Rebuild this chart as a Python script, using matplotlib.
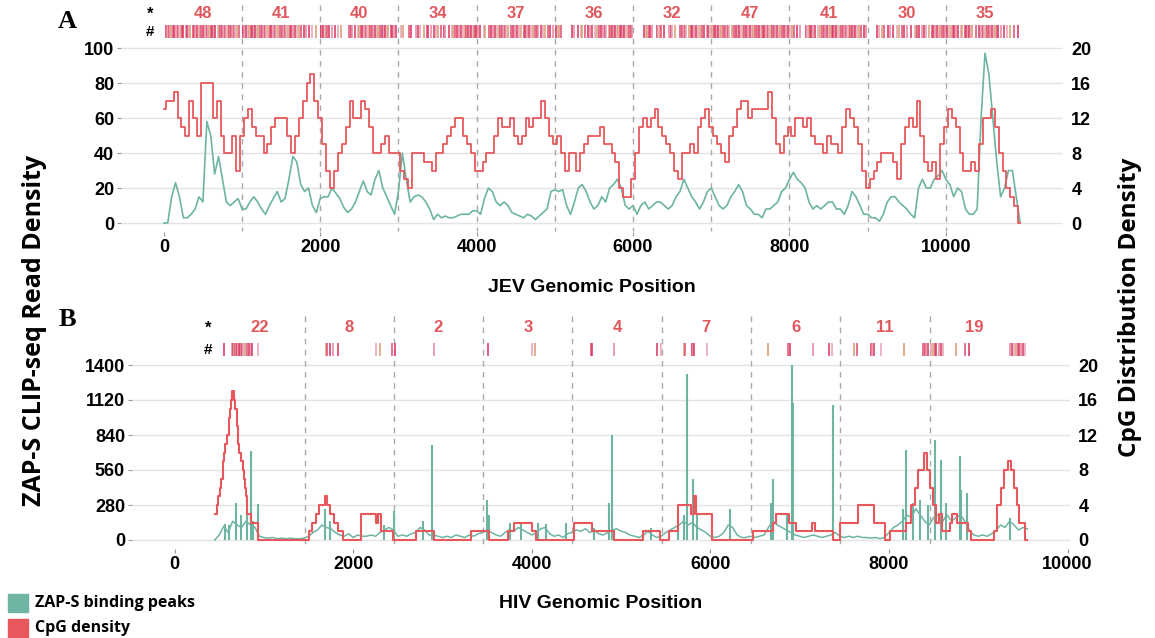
import numpy as np
import matplotlib.pyplot as plt
import matplotlib.transforms as mtransforms
from matplotlib.patches import Rectangle

GREEN = '#6db4a2'
RED = '#e8575b'
NUM_RED = '#e0585e'
SITE_COLORS = ['#dc3c66', '#e68da3', '#d94468', '#eaa6b6', '#d9a27c', '#e05a7a']

# ---------------- JEV (panel A) ----------------
jev_pos = np.arange(0, 10951, 50)
# CpG density (right axis)
jev_cpg = [13, 14, 14, 15, 12, 11, 10, 14, 12, 10, 16,
           16, 16, 12, 14, 10, 8, 8, 10, 6, 10,
           12, 13, 11, 10, 10, 8, 9, 11, 12, 12,
           12, 10, 8, 10, 12, 14, 16, 17, 14, 12,
           9, 6, 4, 6, 8, 9, 11, 14, 12, 12,
           14, 13, 11, 8, 8, 9, 10, 8, 8, 8,
           6, 5, 4, 8, 8, 8, 7, 7, 6, 8,
           8, 9, 10, 11, 12, 12, 10, 9, 8, 6,
           6, 7, 8, 8, 10, 12, 11, 11, 12, 10,
           9, 10, 12, 11, 12, 12, 14, 12, 10, 9,
           10, 8, 6, 8, 8, 6, 8, 9, 10, 10,
           10, 11, 9, 9, 8, 7, 4, 3, 3, 5,
           8, 11, 12, 11, 12, 13, 11, 10, 9, 8,
           6, 5, 8, 8, 9, 8, 11, 12, 13, 11,
           10, 9, 8, 7, 10, 11, 13, 14, 14, 12,
           13, 13, 13, 13, 15, 12, 9, 8, 10, 11,
           10, 12, 12, 11, 12, 10, 9, 9, 8, 10,
           9, 9, 8, 11, 13, 12, 11, 9, 6, 4,
           5, 6, 7, 8, 8, 8, 7, 5, 9, 11,
           12, 11, 14, 10, 7, 6, 7, 5, 9, 11,
           13, 12, 11, 8, 6, 6, 7, 6, 9, 12,
           12, 13, 11, 8, 6, 4, 3, 2, 0]
# ZAP-S CLIP-seq read density (left axis)
jev_zap = [0, 0, 15, 23, 15, 3, 3, 5, 8, 15, 12,
           58, 50, 28, 38, 25, 12, 10, 12, 14, 8,
           8, 12, 15, 12, 8, 5, 10, 14, 18, 12,
           14, 25, 38, 35, 22, 18, 20, 10, 6, 14,
           15, 15, 20, 17, 14, 9, 6, 8, 12, 18,
           24, 18, 16, 25, 30, 20, 15, 10, 5, 18,
           40, 25, 12, 15, 16, 15, 12, 8, 2, 5,
           3, 4, 3, 3, 4, 5, 5, 5, 7, 7,
           5, 14, 20, 18, 12, 10, 12, 10, 6, 5,
           4, 3, 5, 4, 2, 4, 6, 8, 18, 19,
           18, 19, 10, 5, 12, 20, 22, 18, 12, 8,
           10, 15, 12, 20, 22, 25, 20, 10, 8, 10,
           5, 10, 12, 8, 10, 12, 12, 10, 8, 10,
           15, 18, 25, 20, 15, 12, 8, 12, 18, 20,
           15, 10, 8, 10, 15, 18, 22, 18, 10, 8,
           5, 5, 3, 8, 8, 10, 12, 18, 20, 25,
           29, 25, 23, 20, 12, 8, 10, 8, 10, 12,
           12, 8, 8, 5, 10, 18, 15, 10, 5, 5,
           3, 3, 1, 5, 12, 15, 15, 12, 10, 8,
           5, 3, 20, 25, 20, 20, 25, 27, 30, 25,
           22, 15, 20, 18, 8, 5, 5, 8, 60, 97,
           85, 60, 35, 15, 20, 30, 30, 15, 0]
jev_bounds = [1000, 2000, 3000, 4000, 5000, 6000, 7000, 8000, 9000, 10000]
jev_counts = [48, 41, 40, 34, 37, 36, 32, 47, 41, 30, 35]
jev_count_x = [500, 1500, 2500, 3500, 4500, 5500, 6500, 7500, 8500, 9500, 10500]
jev_sites = [
    26, 45, 62, 80, 98, 115, 135, 155, 175, 195, 215, 232, 247, 285, 300, 318,
    335, 375, 390, 405, 420, 445, 462, 478, 495, 530, 548, 565, 580, 600, 620,
    640, 660, 690, 705, 720, 738, 760, 780, 800, 818, 835, 855, 875, 895, 915,
    940, 965,
    1015, 1030, 1055, 1075, 1090, 1110, 1130, 1150, 1165, 1190, 1210, 1235,
    1250, 1270, 1290, 1310, 1330, 1355, 1375, 1400, 1420, 1440, 1460, 1480,
    1505, 1525, 1545, 1565, 1590, 1610, 1630, 1650, 1675, 1700, 1725, 1750,
    1790, 1820, 1860, 1900, 1950,
    2005, 2015, 2025, 2040, 2055, 2070, 2085, 2110, 2150, 2190, 2230, 2270,
    2370, 2390, 2410, 2440, 2480, 2500, 2520, 2540, 2560, 2580, 2600, 2620,
    2640, 2660, 2680, 2700, 2720, 2745, 2765, 2790, 2810, 2830, 2850, 2870,
    2900, 2920, 2945, 2970,
    3030, 3060, 3130, 3160, 3220, 3250, 3275, 3330, 3360, 3380, 3420, 3450,
    3480, 3510, 3550, 3580, 3600, 3650, 3680, 3700, 3720, 3750, 3770, 3800,
    3820, 3850, 3870, 3890, 3910, 3930, 3950, 3960, 3975, 3990,
    4020, 4045, 4090, 4110, 4160, 4180, 4210, 4235, 4260, 4280, 4300, 4320,
    4340, 4360, 4380, 4400, 4440, 4460, 4490, 4520, 4545, 4570, 4600, 4620,
    4640, 4670, 4700, 4725, 4750, 4770, 4790, 4820, 4850, 4880, 4910, 4940,
    4970,
    5015, 5035, 5055, 5075, 5220, 5250, 5300, 5330, 5350, 5390, 5420, 5450,
    5480, 5510, 5540, 5565, 5590, 5610, 5640, 5660, 5690, 5710, 5730, 5750,
    5770, 5790, 5810, 5830, 5850, 5870, 5890, 5910, 5930, 5950, 5970, 5990,
    6140, 6160, 6180, 6200, 6220, 6240, 6300, 6320, 6340, 6360, 6400, 6460,
    6480, 6500, 6540, 6600, 6620, 6640, 6660, 6680, 6720, 6740, 6760, 6780,
    6800, 6830, 6850, 6880, 6910, 6940, 6960, 6985,
    7010, 7030, 7050, 7070, 7090, 7110, 7130, 7150, 7170, 7190, 7210, 7230,
    7260, 7290, 7320, 7340, 7360, 7380, 7400, 7420, 7440, 7470, 7500, 7520,
    7540, 7560, 7580, 7600, 7615, 7630, 7645, 7660, 7680, 7700, 7720, 7740,
    7760, 7780, 7800, 7820, 7840, 7860, 7880, 7900, 7930, 7960, 7985,
    8010, 8030, 8060, 8090, 8130, 8210, 8230, 8245, 8260, 8280, 8300, 8330,
    8360, 8390, 8420, 8440, 8460, 8480, 8500, 8520, 8540, 8560, 8580, 8600,
    8620, 8640, 8660, 8680, 8700, 8720, 8740, 8760, 8780, 8800, 8820, 8840,
    8860, 8890, 8920, 8950, 8980,
    9120, 9150, 9180, 9210, 9260, 9290, 9330, 9370, 9400, 9440, 9470, 9500,
    9560, 9600, 9615, 9630, 9660, 9690, 9720, 9750, 9790, 9820, 9840, 9860,
    9880, 9910, 9930, 9950, 9970, 9990,
    10020, 10040, 10060, 10090, 10110, 10130, 10160, 10190, 10210, 10240,
    10260, 10280, 10300, 10320, 10340, 10380, 10420, 10450, 10470, 10490,
    10510, 10530, 10550, 10570, 10590, 10610, 10630, 10650, 10670, 10700,
    10740, 10780, 10820, 10870, 10920]

# ---------------- HIV (panel B) ----------------
hiv_pos = np.arange(450, 9551, 50)
hiv_zap = [0, 40, 110, 60, 150, 120, 100, 150, 120, 100,
           30, 20, 15, 20, 10, 15, 10, 15, 10, 10,
           15, 30, 60, 80, 120, 100, 90, 60, 40, 30,
           50, 20, 40, 30, 30, 40, 30, 60, 80, 100,
           80, 30, 40, 30, 50, 60, 100, 80, 40, 40,
           30, 20, 30, 20, 40, 30, 20, 40, 30, 50,
           60, 80, 60, 40, 30, 60, 80, 70, 100, 80,
           60, 40, 60, 90, 100, 50, 30, 40, 20, 50,
           60, 80, 70, 90, 60, 80, 50, 40, 60, 80,
           90, 70, 60, 40, 30, 20, 40, 70, 40, 20,
           30, 60, 80, 100, 120, 150, 120, 140, 100, 80,
           60, 30, 20, 30, 60, 120, 100, 40, 20, 20,
           30, 20, 30, 40, 100, 150, 120, 100, 80, 60,
           40, 30, 20, 30, 40, 30, 20, 30, 40, 60,
           30, 20, 30, 20, 30, 20, 20, 15, 20, 10,
           20, 60, 100, 120, 150, 200, 180, 250, 200, 150,
           120, 180, 200, 150, 200, 150, 180, 200, 150, 80,
           40, 30, 40, 30, 50, 80, 120, 100, 150, 120,
           80, 100, 90]
hiv_peak_pos = [560, 610, 683, 742, 813, 853, 880, 932, 1680, 1740, 2350,
                2460, 2785, 2885, 3500, 3520, 3760, 3880, 4075, 4155, 4380,
                4700, 4860, 4900, 5340, 5640, 5700, 5735, 5810, 5850, 6220,
                6680, 6700, 6860, 6910, 6920, 7375, 8160, 8190, 8270, 8350,
                8440, 8510, 8580, 8640, 8790, 8810, 8870, 9350]
hiv_peak_h = [130, 120, 300, 200, 250, 710, 150, 290, 250, 150, 120,
              230, 150, 760, 320, 200, 140, 130, 140, 130, 140,
              100, 300, 840, 100, 140, 200, 1330, 490, 200, 250,
              300, 490, 200, 1400, 1100, 1080, 250, 720, 300, 320,
              280, 800, 640, 300, 670, 400, 380, 180]
hiv_cpg_pos = [450, 470, 490, 510, 525, 540, 555, 570, 590, 605, 620, 635,
               645, 665, 680, 695, 710, 725, 745, 765, 780, 790, 805, 815,
               850, 935, 1500, 1540, 1580, 1620, 1680, 1710, 1740, 1780,
               1830, 1890, 2090, 2250, 2280, 2310, 2450, 2700, 2900, 3320,
               3520, 3730, 3800, 4000, 4050, 4470, 4670, 4925, 5245, 5440,
               5540, 5640, 5780, 5820, 5840, 6020, 6480, 6700, 6740, 6880,
               6960, 7140, 7170, 7375, 7455, 7650, 7830, 7960, 8010, 8190,
               8250, 8290, 8330, 8390, 8430, 8460, 8490, 8530, 8560, 8590,
               8680, 8710, 8760, 8880, 8920, 9180, 9210, 9250, 9290, 9330,
               9370, 9400, 9430, 9460, 9520, 9550]
hiv_cpg_val = [3, 4, 5, 6, 7, 9, 10, 11, 12, 14, 15, 16,
               17, 16, 15, 13, 11, 10, 9, 8, 7, 6, 5, 3,
               2, 0, 1, 2, 3, 4, 5, 4, 3, 2,
               1, 0, 3, 2, 3, 1, 0, 1, 0, 1,
               0, 1, 2, 1, 0, 2, 1, 0, 1, 0,
               1, 4, 3, 5, 3, 0, 1, 2, 3, 2,
               1, 2, 1, 0, 2, 4, 2, 0, 1, 2,
               4, 6, 8, 10, 8, 6, 4, 2, 3, 1,
               2, 3, 2, 1, 0, 1, 4, 6, 8, 9,
               8, 6, 4, 2, 0, 0]
hiv_bounds = [1455, 2455, 3455, 4455, 5455, 6455, 7455, 8455]
hiv_counts = [22, 8, 2, 3, 4, 7, 6, 11, 19]
hiv_count_x = [955, 1955, 2955, 3955, 4955, 5955, 6955, 7955, 8955]
hiv_sites = [558, 640, 650, 660, 668, 676, 684, 692, 700, 710, 718, 726, 735,
             745, 755, 770, 790, 810, 830, 860, 868, 935,
             1690, 1710, 1740, 1779, 1826, 2250, 2295, 2440,
             2465, 2900,
             3505, 3998, 4031,
             4658, 4670, 4920, 5400,
             5450, 5700, 5720, 5790, 5805, 5820, 5965,
             6646, 6865, 6895, 7145, 7324, 7357,
             7609, 7637, 7800, 7815, 7830, 7906, 8171, 8380, 8400, 8420, 8440,
             8470, 8490, 8510, 8530, 8555, 8580, 8605, 8750, 8853, 8891,
             9360, 9380, 9400, 9420, 9440, 9460, 9480, 9500, 9520]

plt.rcParams['font.family'] = 'Liberation Sans'
plt.rcParams['font.weight'] = 'bold'

W, H = 1155, 638
fig = plt.figure(figsize=(W / 100, H / 100), dpi=100)


def fy(py):
    return 1 - py / H


def style_axes(ax, ax2, xlim, ylim, yticks, scale):
    ax.set_xlim(*xlim)
    ax.set_ylim(*ylim)
    ax2.set_ylim(ylim[0] / scale, ylim[1] / scale)
    ax.set_yticks(yticks)
    ax2.set_yticks([0, 4, 8, 12, 16, 20])
    ax.set_xticks(range(0, 10001, 2000))
    for a in (ax, ax2):
        for s in a.spines.values():
            s.set_visible(False)
    ax.grid(axis='y', color='#e3e3e3', lw=1)
    ax.set_axisbelow(True)
    ax.tick_params(axis='both', labelsize=13, length=3, width=0.8,
                   color='#999999', pad=2)
    ax2.tick_params(axis='y', labelsize=13, length=0, pad=6)
    for lab in ax.get_xticklabels() + ax.get_yticklabels() + ax2.get_yticklabels():
        lab.set_fontweight('bold')


def strip(ax, sites, bounds, counts, count_x, y_num, y_bar, y_dash, star_x):
    tr = mtransforms.blended_transform_factory(ax.transData, fig.transFigure)
    ax.vlines(bounds, fy(y_dash[0]), fy(y_dash[1]), transform=tr, colors='#a9a9a9',
              linestyles=(0, (4, 4)), lw=1, clip_on=False, zorder=1)
    cols = [SITE_COLORS[i % len(SITE_COLORS)] for i in range(len(sites))]
    ax.vlines(sites, fy(y_bar[1]), fy(y_bar[0]), transform=tr, colors=cols,
              lw=1.2, clip_on=False)
    for x, c in zip(count_x, counts):
        ax.text(x, fy(y_num), str(c), transform=tr, ha='center', va='center',
                color=NUM_RED, fontsize=12, fontweight='bold')
    fig.text(star_x / W, fy(y_num), '*', ha='center', va='center', fontsize=12,
             fontweight='bold')
    fig.text(star_x / W, fy((y_bar[0] + y_bar[1]) / 2), '#', ha='center',
             va='center', fontsize=11, fontweight='bold')


# panel A
axA = fig.add_axes([121 / W, fy(231.6), (1063 - 121) / W, (231.6 - 44.5) / H])
axA2 = axA.twinx()
axA.plot(jev_pos, jev_zap, color=GREEN, lw=1.2, zorder=3)
axA2.plot(jev_pos, jev_cpg, color=RED, lw=1.3, drawstyle='steps-mid', zorder=3)
style_axes(axA, axA2, (-547.5, 11497.5), (-4.9, 102), range(0, 101, 20), 5)
strip(axA, jev_sites, jev_bounds, jev_counts, jev_count_x, 14, (25, 38),
      (5, 231), 150)

# panel B
axB = fig.add_axes([132 / W, fy(548.75), (1070 - 132) / W, (548.75 - 356.25) / H])
axB2 = axB.twinx()
axB.plot(hiv_pos, hiv_zap, color=GREEN, lw=1.1, zorder=3)
axB.vlines(hiv_peak_pos, 0, hiv_peak_h, color=GREEN, lw=1.5, zorder=3)
axB2.step(hiv_cpg_pos, hiv_cpg_val, where='post', color=RED, lw=1.5, zorder=3)
style_axes(axB, axB2, (-477, 10027), (-70, 1470), range(0, 1401, 280), 70)
strip(axB, hiv_sites, hiv_bounds, hiv_counts, hiv_count_x, 328, (343, 356),
      (316, 548), 208)

# labels
fig.text(67 / W, fy(22), 'A', family='Liberation Serif', fontsize=19,
         fontweight='bold', ha='center', va='center')
fig.text(67 / W, fy(320), 'B', family='Liberation Serif', fontsize=19,
         fontweight='bold', ha='center', va='center')
fig.text(592 / W, fy(287), 'JEV Genomic Position', fontsize=14,
         fontweight='bold', ha='center', va='center')
fig.text(601 / W, fy(603), 'HIV Genomic Position', fontsize=14,
         fontweight='bold', ha='center', va='center')
fig.text(35 / W, fy(330), 'ZAP-S CLIP-seq Read Density', family='Open Sans',
         fontsize=18, fontweight='bold', rotation=90, ha='center', va='center')
fig.text(1130 / W, fy(307), 'CpG Distribution Density', family='Open Sans',
         fontsize=17.5, fontweight='bold', rotation=90, ha='center', va='center')

# legend
for yk, col, lab in [(603, GREEN, 'ZAP-S binding peaks'), (628, RED, 'CpG density')]:
    fig.patches.append(Rectangle((8 / W, fy(yk + 9)), 20 / W, 18 / H,
                                 transform=fig.transFigure, color=col))
    fig.text(35 / W, fy(yk), lab, family='Open Sans', fontsize=11.5,
             fontweight='bold', ha='left', va='center')

fig.savefig('out.png', dpi=100)
